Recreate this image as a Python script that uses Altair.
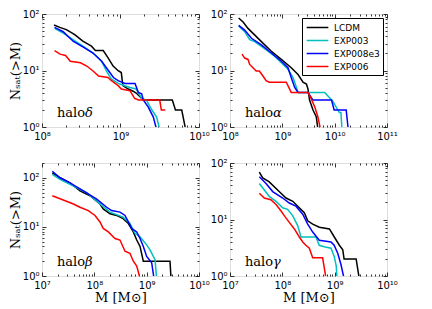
import altair as alt
import pandas as pd

SERIES = ["LCDM", "EXP003", "EXP008e3", "EXP006"]
COLORS = ["#000000", "#00BFBF", "#0000FF", "#FF0000"]

# ---- halo delta (top left): log10 M, N(>M)
D_LCDM_LM = [8.153, 8.226, 8.31, 8.417, 8.52, 8.63, 8.68, 8.78, 8.84, 8.906, 8.97, 9.01, 9.03, 9.10, 9.16, 9.20, 9.29, 9.66, 9.70, 9.78, 9.83]
D_LCDM_N = [64, 58, 53, 43, 33, 27, 22.6, 22.6, 16.9, 12, 9.9, 9.2, 5.4, 4.7, 4.3, 4.0, 3, 3, 2, 2, 0.9]
D_E003_LM = [8.16, 8.27, 8.40, 8.526, 8.65, 8.76, 8.82, 8.885, 8.99, 9.12, 9.2, 9.27, 9.33, 9.40, 9.46, 9.50]
D_E003_N = [55.6, 45.7, 34.9, 26.7, 20.4, 14.6, 9.8, 7.0, 5.75, 5.0, 4.7, 3.2, 3, 2, 1.5, 0.9]
D_E008_LM = [8.16, 8.27, 8.40, 8.526, 8.65, 8.76, 8.82, 8.91, 8.97, 9.057, 9.185, 9.227, 9.27, 9.29, 9.354, 9.418, 9.46]
D_E008_N = [57.8, 48.6, 32.6, 26, 20.4, 14.6, 11.2, 7.5, 6.6, 5.9, 5.9, 4.1, 3.86, 3, 2.25, 1.5, 0.9]
D_E006_LM = [8.16, 8.23, 8.30, 8.36, 8.49, 8.57, 8.65, 8.72, 8.84, 8.885, 8.97, 9.01, 9.12, 9.18, 9.23, 9.50, 9.52, 9.57]
D_E006_N = [22.4, 19.5, 18.4, 14.6, 13.7, 12, 9.8, 8, 7.5, 6.6, 5.4, 4.7, 4.4, 3.2, 3, 3, 2, 2]

# ---- halo alpha (top right)
A_LCDM_LM = [8.166, 8.25, 8.344, 8.47, 8.6, 8.79, 8.98, 9.17, 9.30, 9.395, 9.46, 9.49, 9.52, 9.586, 9.65, 9.68]
A_LCDM_N = [85, 72, 55.6, 42.7, 32.4, 21.9, 15.7, 11.2, 8.5, 6.2, 5.75, 4.7, 3, 2, 1.5, 0.9]
A_E003_LM = [8.166, 8.28, 8.376, 8.47, 8.6, 8.726, 8.85, 8.98, 9.108, 9.204, 9.27, 9.30, 9.81, 9.96, 10.09, 10.12, 10.14]
A_E003_N = [61.7, 48.6, 35, 32.4, 26.7, 21.9, 17.9, 13.7, 10.5, 7.5, 5, 4.1, 4.1, 2.9, 1.8, 1.8, 0.9]
A_E008_LM = [8.166, 8.28, 8.41, 8.6, 8.79, 8.98, 9.108, 9.17, 9.236, 9.30, 9.49, 9.586, 9.94, 9.99, 10.22, 10.26]
A_E008_N = [63, 52, 37.2, 28.5, 20.4, 14.6, 11.2, 7.5, 5, 4.1, 4.1, 3, 3, 2, 2, 0.9]
A_E006_LM = [8.23, 8.28, 8.344, 8.376, 8.44, 8.5, 8.56, 8.63, 8.69, 8.75, 9.076, 9.17, 9.49, 9.55, 9.62, 9.68, 9.73]
A_E006_N = [19.5, 16.6, 15.7, 12.8, 11.2, 9.8, 9.8, 8, 6.6, 6.2, 6.2, 4.1, 4.1, 3.2, 2.25, 1.5, 0.9]

# ---- halo beta (bottom left)
B_LCDM_LM = [7.197, 7.344, 7.535, 7.726, 7.917, 8.108, 8.17, 8.30, 8.427, 8.55, 8.65, 8.745, 8.81, 8.873, 8.936, 9.446, 9.465]
B_LCDM_N = [126, 100, 79, 54, 43, 29.3, 23.3, 18.5, 17.1, 14.7, 11.7, 7.9, 5.4, 4, 2, 2, 0.9]
B_E003_LM = [7.197, 7.344, 7.6, 7.855, 8.108, 8.3, 8.55, 8.68, 8.777, 8.873, 9.0, 9.064, 9.16, 9.19]
B_E003_N = [117, 92.7, 68, 50, 29.3, 20, 15.8, 11.7, 7.4, 6.3, 4.3, 3.4, 2.15, 0.9]
B_E008_LM = [7.197, 7.344, 7.535, 7.79, 8.045, 8.236, 8.33, 8.49, 8.586, 8.65, 8.714, 8.81, 8.873, 8.936, 9.0, 9.096, 9.14]
B_E008_N = [136, 100, 79, 54, 36.9, 25.1, 21.5, 20, 17.1, 12.6, 9.3, 7.9, 5.8, 4, 2.5, 1.85, 0.9]
B_E006_LM = [7.197, 7.407, 7.6, 7.726, 7.885, 8.013, 8.108, 8.17, 8.267, 8.395, 8.49, 8.586, 8.68, 8.745, 8.81, 8.873]
B_E006_N = [43, 35.2, 29.3, 25.1, 21.5, 17.1, 12.6, 9.3, 7.9, 5.8, 5.4, 3.2, 2.9, 2, 1.6, 0.9]

# ---- halo gamma (bottom right)
G_LCDM_LM = [7.56, 7.625, 7.75, 7.94, 8.07, 8.2, 8.324, 8.42, 8.485, 8.58, 8.706, 8.9, 8.993, 9.09, 9.155, 9.18, 9.41, 9.47]
G_LCDM_N = [69, 54.5, 46.4, 31.2, 24, 21, 16.1, 13.2, 9.5, 8.3, 7.3, 6.8, 4.9, 3.5, 2.9, 2, 2, 0.9]
G_E003_LM = [7.56, 7.656, 7.75, 7.88, 8.007, 8.1, 8.2, 8.293, 8.357, 8.643, 8.706, 8.8, 8.93, 8.993, 9.03, 9.045]
G_E003_N = [43.5, 33.3, 25.6, 21, 16.1, 15.1, 11.6, 7.8, 4.9, 4.9, 3.5, 3.3, 3.1, 2.2, 1.5, 0.9]
G_E008_LM = [7.56, 7.688, 7.816, 8.007, 8.133, 8.26, 8.39, 8.485, 8.58, 8.706, 8.93, 8.99, 9.06, 9.12, 9.18]
G_E008_N = [57, 43.5, 31.2, 24, 19.6, 17.2, 12.4, 8.3, 6, 4.3, 4, 3.5, 2.5, 1.6, 0.9]
G_E006_LM = [7.56, 7.656, 7.78, 7.88, 7.975, 8.04, 8.133, 8.23, 8.324, 8.39, 8.45, 8.516, 8.58, 8.77, 8.835]
G_E006_N = [29.2, 24, 22.4, 18.4, 14.1, 11.6, 8.9, 6.8, 4.9, 4, 3.5, 3.1, 2.1, 2.1, 0.9]

PANEL_GREEK = ["δ", "α", "β", "γ"]

W, H = 157, 113
SUP = str.maketrans("0123456789", "⁰¹²³⁴⁵⁶⁷⁸⁹")


def frame(curves):
    rows = []
    for s, (lm, n) in zip(SERIES, curves):
        for i, (a, b) in enumerate(zip(lm, n)):
            rows.append({"series": s, "M": 10 ** a, "N": b, "i": i})
    return pd.DataFrame(rows)


def label_expr(exps):
    e = "round(log(datum.value)/LN10)"
    parts = [f"{e} == {k} ? '10{str(k).translate(SUP)}'" for k in exps]
    return " : ".join(parts) + " : ''"


def minors(lo, hi, top):
    out = []
    for k in range(lo, hi + 1):
        for m in range(2, 10):
            v = m * 10 ** k
            if v <= top:
                out.append(v)
    return out


def panel(curves, xe, ye, ytop, greek, xtitle, ytitle, legend):
    df = frame(curves)
    xs = alt.Scale(type="log", domain=[10 ** xe[0], 10 ** xe[1]], nice=False)
    ys = alt.Scale(type="log", domain=[1, ytop], nice=False)
    xmaj = [10 ** k for k in range(xe[0], xe[1] + 1)]
    ymaj = [10 ** k for k in range(0, ye + 1)]
    xmin = minors(xe[0], xe[1] - 1, 10 ** xe[1])
    ymin = minors(0, ye, ytop)

    xkw = dict(values=xmaj, labelExpr=label_expr(range(xe[0], xe[1] + 1)), ticks=False,
               domain=False, grid=False, labelFont="DejaVu Sans", labelFontSize=10,
               labelColor="black", labelPadding=4, labelFlush=False)
    ykw = dict(values=ymaj, labelExpr=label_expr(range(0, ye + 1)), ticks=False,
               domain=False, grid=False, labelFont="DejaVu Sans", labelFontSize=10,
               labelColor="black", labelPadding=3, labelFlush=False)
    if xtitle:
        xkw.update(title="M [M⊙]", titleFont="DejaVu Serif", titleFontSize=13,
                   titleFontWeight="normal", titleColor="black", titlePadding=1)
    else:
        xkw.update(title=None)
    if ytitle:
        ykw.update(title="Nₛₐₜ(>M)", titleFont="DejaVu Serif", titleFontSize=13,
                   titleFontWeight="normal", titleColor="black", titlePadding=0)
    else:
        ykw.update(title=None)

    if legend:
        leg = alt.Legend(title=None, orient="top-right", offset=4, padding=3,
                         strokeColor="black", fillColor="white", cornerRadius=0,
                         symbolType="M-1.97,0L1.97,0", symbolSize=121, symbolStrokeWidth=1.5,
                         symbolOffset=6, labelFont="DejaVu Sans", labelFontSize=9,
                         labelColor="black", labelOffset=10, rowPadding=1)
        color = alt.Color("series:N", scale=alt.Scale(domain=SERIES, range=COLORS), legend=leg)
    else:
        color = alt.Color("series:N", scale=alt.Scale(domain=SERIES, range=COLORS), legend=None)

    base = alt.Chart(df)
    layers = []
    for k, s in enumerate(SERIES):
        if k == 0:
            xenc = alt.X("M:Q", scale=xs, axis=alt.Axis(**xkw))
            yenc = alt.Y("N:Q", scale=ys, axis=alt.Axis(**ykw))
        else:
            xenc = alt.X("M:Q", scale=xs, axis=None)
            yenc = alt.Y("N:Q", scale=ys, axis=None)
        layers.append(base.transform_filter(alt.datum.series == s)
                      .mark_line(strokeWidth=1.5, clip=True)
                      .encode(x=xenc, y=yenc, color=color, order=alt.Order("i:Q")))

    def tick_layer(xo, yo, xv, yv, size):
        tk = dict(labels=False, domain=False, grid=False, ticks=True, tickSize=size,
                  tickColor="black", tickWidth=0.8, offset=-size, title=None)
        return base.mark_point(opacity=0, clip=True).encode(
            x=alt.X("M:Q", scale=xs, axis=alt.Axis(orient=xo, values=xv, **tk)),
            y=alt.Y("N:Q", scale=ys, axis=alt.Axis(orient=yo, values=yv, **tk)),
        )

    layers.append(tick_layer("bottom", "left", xmaj, ymaj, 4))
    layers.append(tick_layer("top", "right", xmaj, ymaj, 4))
    layers.append(tick_layer("bottom", "left", xmin, ymin, 2))
    layers.append(tick_layer("top", "right", xmin, ymin, 2))

    tdf = pd.DataFrame({"t": ["halo"], "g": [greek]})
    tb = alt.Chart(tdf)
    layers.append(tb.mark_text(align="left", baseline="alphabetic", font="DejaVu Serif",
                               fontSize=13, color="black")
                  .encode(x=alt.value(15), y=alt.value(H - 10), text="t:N"))
    layers.append(tb.mark_text(align="left", baseline="alphabetic", font="DejaVu Serif",
                               fontSize=13, fontStyle="italic", color="black")
                  .encode(x=alt.value(43), y=alt.value(H - 10), text="g:N"))

    return alt.layer(*layers).resolve_axis(x="independent", y="independent").properties(width=W, height=H)


p1 = panel([(D_LCDM_LM, D_LCDM_N), (D_E003_LM, D_E003_N), (D_E008_LM, D_E008_N), (D_E006_LM, D_E006_N)],
           (8, 10), 2, 100, PANEL_GREEK[0], False, True, False)
p2 = panel([(A_LCDM_LM, A_LCDM_N), (A_E003_LM, A_E003_N), (A_E008_LM, A_E008_N), (A_E006_LM, A_E006_N)],
           (8, 11), 2, 100, PANEL_GREEK[1], False, False, True)
p3 = panel([(B_LCDM_LM, B_LCDM_N), (B_E003_LM, B_E003_N), (B_E008_LM, B_E008_N), (B_E006_LM, B_E006_N)],
           (7, 10), 2, 200, PANEL_GREEK[2], True, True, False)
p4 = panel([(G_LCDM_LM, G_LCDM_N), (G_E003_LM, G_E003_N), (G_E008_LM, G_E008_N), (G_E006_LM, G_E006_N)],
           (7, 10), 2, 100, PANEL_GREEK[3], True, False, False)

chart = (
    alt.concat(p1, p2, p3, p4, columns=2, spacing={"row": 36, "column": 31}, bounds="flush")
    .resolve_scale(color="independent")
    .properties(padding={"left": 0, "top": 0, "right": 2, "bottom": 0})
    .configure_view(stroke="black", strokeWidth=1)
    .configure(background="white")
)

chart.save("out.html", embed_options={"renderer": "svg", "actions": False})
